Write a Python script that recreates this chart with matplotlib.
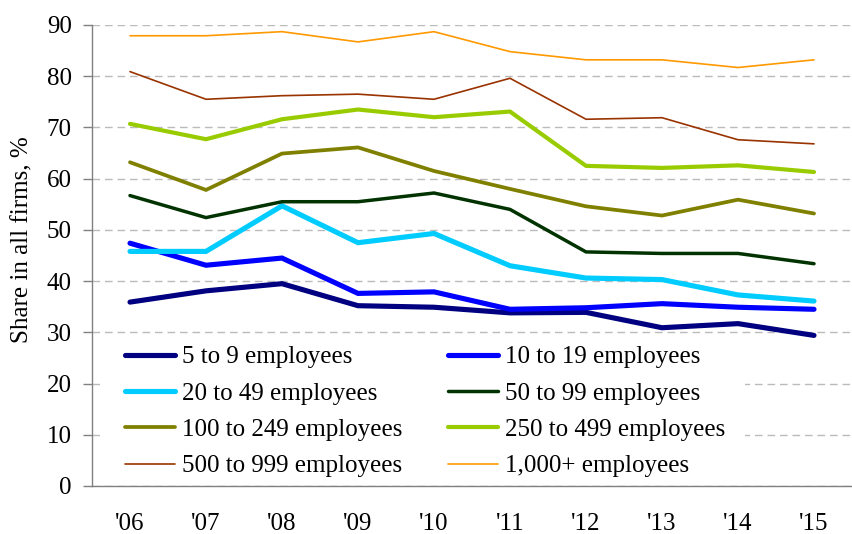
import matplotlib
matplotlib.use("Agg")
import matplotlib.pyplot as plt
from matplotlib.patches import Rectangle

plt.rcParams['font.family'] = ['Liberation Serif', 'DejaVu Serif']

years = ["'06", "'07", "'08", "'09", "'10", "'11", "'12", "'13", "'14", "'15"]

s5_9 = [35.9, 38.1, 39.5, 35.2, 34.9, 33.8, 33.9, 30.9, 31.7, 29.4]
s10_19 = [47.4, 43.1, 44.5, 37.6, 37.9, 34.5, 34.8, 35.6, 34.9, 34.5]
s20_49 = [45.8, 45.8, 54.7, 47.5, 49.3, 43.0, 40.6, 40.3, 37.3, 36.1]
s50_99 = [56.7, 52.4, 55.5, 55.5, 57.2, 54.0, 45.7, 45.4, 45.4, 43.4]
s100_249 = [63.2, 57.8, 64.9, 66.1, 61.5, 58.0, 54.6, 52.8, 55.9, 53.2]
s250_499 = [70.7, 67.7, 71.6, 73.5, 72.0, 73.1, 62.5, 62.1, 62.6, 61.3]
s500_999 = [80.9, 75.5, 76.2, 76.5, 75.5, 79.6, 71.6, 71.9, 67.6, 66.8]
s1000 = [87.9, 87.9, 88.7, 86.7, 88.7, 84.8, 83.2, 83.2, 81.7, 83.2]

labels = ["5 to 9 employees", "10 to 19 employees", "20 to 49 employees",
          "50 to 99 employees", "100 to 249 employees", "250 to 499 employees",
          "500 to 999 employees", "1,000+ employees"]
series = [s5_9, s10_19, s20_49, s50_99, s100_249, s250_499, s500_999, s1000]
colors = ["#000080", "#0000FF", "#00CCFF", "#003300", "#808000", "#99CC00",
          "#993300", "#FF9900"]
widths = [3.7, 3.7, 3.7, 2.5, 2.7, 3.0, 1.2, 1.2]

W, H = 852, 534
FS = 18
fig = plt.figure(figsize=(W / 100, H / 100), dpi=100)
ax = fig.add_axes([92 / W, 1 - 486 / H, (852 - 92) / W, (486 - 25) / H])

x = list(range(len(years)))
handles = []
for s, c, lw, lab in zip(series, colors, widths, labels):
    h, = ax.plot(x, s, color=c, lw=lw, label=lab, solid_capstyle='round',
                 solid_joinstyle='miter', zorder=3)
    handles.append(h)

ax.set_xlim(-0.5, len(years) - 0.5)
ax.set_ylim(0, 90)
ax.set_yticks(range(0, 91, 10))
ax.set_xticks(x)
ax.set_xticklabels(years)
ax.yaxis.grid(True, color='#BBBBBB', linestyle=(0, (5.5, 3.5)), lw=1.0, zorder=0)
ax.set_axisbelow(True)

for side in ['top', 'right']:
    ax.spines[side].set_visible(False)
for side in ['left', 'bottom']:
    ax.spines[side].set_color('#808080')
    ax.spines[side].set_linewidth(1.0)

ax.tick_params(axis='y', length=6.5, width=1.0, color='#808080', pad=8,
               labelsize=FS, direction='out')
ax.tick_params(axis='x', length=0, pad=19.5, labelsize=FS)

fig.text(22 / W, 1 - 240 / H, "Share in all firms, %", rotation=90,
         ha='center', va='center', fontsize=FS)

# white legend background
ax.add_patch(Rectangle((100 / W, 1 - 484 / H), (745 - 100) / W, (484 - 336) / H,
                       transform=fig.transFigure, facecolor='white',
                       edgecolor='none', zorder=1))

order = [0, 2, 4, 6, 1, 3, 5, 7]
leg = ax.legend([handles[i] for i in order], [labels[i] for i in order],
                ncol=2, loc='upper left',
                bbox_to_anchor=(125 / W, 1 - 346 / H),
                bbox_transform=fig.transFigure,
                fontsize=FS, frameon=False, borderpad=0,
                handlelength=2.0, handletextpad=0.28, columnspacing=1.84,
                labelspacing=0.55, borderaxespad=0)
leg.set_zorder(5)

fig.savefig("out.png", dpi=100)
